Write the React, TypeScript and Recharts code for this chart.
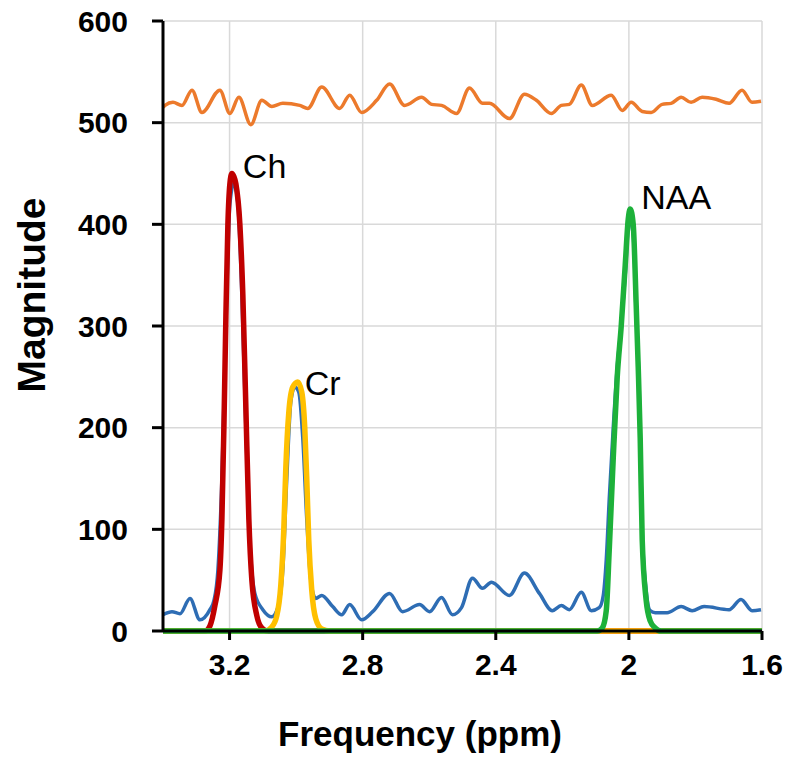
import { LineChart, Line, XAxis, YAxis, CartesianGrid, ReferenceDot, Label } from "recharts";

const FONT = "'Liberation Sans', Arial, sans-serif";

// x axis ticks (ppm, drawn right-to-left) and y ticks
const X_TICKS = [3.2, 2.8, 2.4, 2, 1.6];
const Y_TICKS = [0, 100, 200, 300, 400, 500, 600];

// orange trace (offset residual)
const ORANGE_PPM = [3.4, 3.394, 3.37, 3.343, 3.313, 3.283, 3.229, 3.199, 3.172, 3.136, 3.103, 3.073, 3.04, 2.989, 2.965, 2.923, 2.869, 2.839, 2.803, 2.758, 2.719, 2.674, 2.623, 2.593, 2.563, 2.518, 2.479, 2.44, 2.419, 2.359, 2.314, 2.278, 2.233, 2.203, 2.179, 2.143, 2.11, 2.053, 2.02, 1.993, 1.96, 1.933, 1.9, 1.873, 1.843, 1.813, 1.78, 1.738, 1.699, 1.66, 1.63, 1.603];
const ORANGE_MAG = [515, 517, 520, 517, 532, 510, 532, 509, 525, 498, 522, 516, 519, 517, 514, 535, 514, 527, 510, 522, 538, 517, 525, 518, 517, 509, 534, 519, 519, 504, 528, 522, 509, 517, 518, 537, 517, 527, 512, 520, 511, 510, 518, 519, 525, 520, 525, 523, 519, 532, 520, 521];

// blue trace (measured spectrum)
const BLUE_PPM = [3.4, 3.373, 3.349, 3.319, 3.289, 3.259, 3.247, 3.235, 3.223, 3.211, 3.199, 3.187, 3.175, 3.163, 3.151, 3.139, 3.124, 3.1, 3.073, 3.055, 3.04, 3.028, 3.016, 3.004, 2.992, 2.98, 2.968, 2.956, 2.941, 2.923, 2.89, 2.863, 2.839, 2.803, 2.77, 2.719, 2.68, 2.629, 2.599, 2.563, 2.53, 2.503, 2.47, 2.44, 2.413, 2.359, 2.314, 2.269, 2.23, 2.203, 2.179, 2.143, 2.113, 2.089, 2.077, 2.068, 2.059, 2.047, 2.035, 2.023, 2.011, 1.999, 1.987, 1.978, 1.969, 1.96, 1.948, 1.936, 1.921, 1.885, 1.843, 1.81, 1.774, 1.699, 1.663, 1.63, 1.603];
const BLUE_MAG = [16, 19, 17, 32, 11, 21, 30, 60, 150, 300, 420, 440, 420, 330, 200, 90, 37, 21, 14, 23, 60, 150, 225, 240, 235, 190, 110, 50, 32, 35, 24, 16, 26, 11, 19, 37, 19, 26, 19, 33, 16, 23, 52, 42, 48, 35, 57, 37, 20, 25, 21, 38, 20, 23, 35, 70, 130, 200, 260, 300, 350, 405, 390, 310, 240, 100, 40, 20, 18, 18, 24, 20, 24, 21, 31, 20, 21];

// Ch fit (red)
const CH_PPM = [3.4, 3.274, 3.259, 3.244, 3.229, 3.223, 3.217, 3.211, 3.205, 3.199, 3.193, 3.187, 3.181, 3.169, 3.16, 3.151, 3.142, 3.133, 3.118, 3.103, 3.085, 1.6];
const CH_MAG = [0, 0, 5, 25, 60, 110, 200, 310, 400, 440, 450, 447, 440, 400, 330, 220, 110, 50, 15, 3, 0, 0];

// Cr fit (yellow)
const CR_PPM = [3.4, 3.094, 3.073, 3.058, 3.046, 3.037, 3.031, 3.022, 3.01, 2.995, 2.983, 2.974, 2.968, 2.962, 2.953, 2.941, 2.923, 2.899, 1.6];
const CR_MAG = [0, 0, 4, 15, 45, 100, 160, 215, 240, 245, 235, 200, 150, 90, 40, 12, 2, 0, 0];

// NAA fit (green)
const NAA_PPM = [3.4, 2.095, 2.08, 2.068, 2.059, 2.047, 2.035, 2.023, 2.011, 2.002, 1.996, 1.987, 1.978, 1.972, 1.966, 1.96, 1.948, 1.936, 1.921, 1.903, 1.6];
const NAA_MAG = [0, 0, 3, 20, 80, 170, 250, 300, 360, 405, 415, 400, 320, 260, 190, 90, 30, 10, 3, 0, 0];

const zip = (ppm: number[], mag: number[]) => ppm.map((p, i) => ({ ppm: p, mag: mag[i] }));

const orange = zip(ORANGE_PPM, ORANGE_MAG);
const blue = zip(BLUE_PPM, BLUE_MAG);
const ch = zip(CH_PPM, CH_MAG);
const cr = zip(CR_PPM, CR_MAG);
const naa = zip(NAA_PPM, NAA_MAG);

const tickStyle = { fill: "#000", fontSize: 30, fontWeight: 700, fontFamily: FONT };

const peakLabel = (text: string) => (props: any) => {
  const vb = props.viewBox || {};
  return (
    <text x={vb.x} y={vb.y} fontSize={34} fontFamily={FONT} fill="#000">
      {text}
    </text>
  );
};

export default function App() {
  return (
    <div>
      <style>{`html, body { margin: 0; overflow: hidden; }`}</style>
      <LineChart
        width={788}
        height={757}
        margin={{ top: 21, right: 26, bottom: 0, left: 0 }}
        style={{ fontFamily: FONT }}
      >
        <CartesianGrid stroke="#D9D9D9" strokeWidth={1.5} />
        <XAxis
          type="number"
          dataKey="ppm"
          domain={[1.6, 3.4]}
          reversed
          allowDataOverflow
          ticks={X_TICKS}
          interval={0}
          height={126}
          tickSize={9}
          tickMargin={14}
          axisLine={{ stroke: "#000", strokeWidth: 3 }}
          tickLine={{ stroke: "#000", strokeWidth: 3 }}
          tick={tickStyle}
          label={
            <Label
              content={() => (
                <text x={420} y={746} textAnchor="middle" fontSize={35} fontWeight={700} fontFamily={FONT} fill="#000">
                  Frequency (ppm)
                </text>
              )}
            />
          }
        />
        <YAxis
          type="number"
          domain={[0, 600]}
          ticks={Y_TICKS}
          interval={0}
          width={163}
          tickSize={11}
          tickMargin={24}
          axisLine={{ stroke: "#000", strokeWidth: 3 }}
          tickLine={{ stroke: "#000", strokeWidth: 3 }}
          tick={tickStyle}
          label={
            <Label
              content={() => (
                <text
                  x={31}
                  y={295}
                  transform="rotate(-90 31 295)"
                  textAnchor="middle"
                  dominantBaseline="central"
                  fontSize={39}
                  fontWeight={700}
                  fontFamily={FONT}
                  fill="#000"
                >
                  Magnitude
                </text>
              )}
            />
          }
        />
        <Line data={orange} dataKey="mag" type="monotone" stroke="#EC7A2C" strokeWidth={3.5} dot={false} isAnimationActive={false} />
        <Line data={blue} dataKey="mag" type="monotone" stroke="#2E6DB4" strokeWidth={3.5} dot={false} isAnimationActive={false} />
        <Line data={ch} dataKey="mag" type="monotone" stroke="#C00000" strokeWidth={5.5} dot={false} isAnimationActive={false} />
        <Line data={cr} dataKey="mag" type="monotone" stroke="#FFC000" strokeWidth={5.5} dot={false} isAnimationActive={false} />
        <Line data={naa} dataKey="mag" type="monotone" stroke="#1DB13A" strokeWidth={5.5} dot={false} isAnimationActive={false} />
        <ReferenceDot x={3.16} y={446} r={0} fill="none" stroke="none" label={peakLabel("Ch")} />
        <ReferenceDot x={2.974} y={232} r={0} fill="none" stroke="none" label={peakLabel("Cr")} />
        <ReferenceDot x={1.963} y={415} r={0} fill="none" stroke="none" label={peakLabel("NAA")} />
      </LineChart>
    </div>
  );
}
